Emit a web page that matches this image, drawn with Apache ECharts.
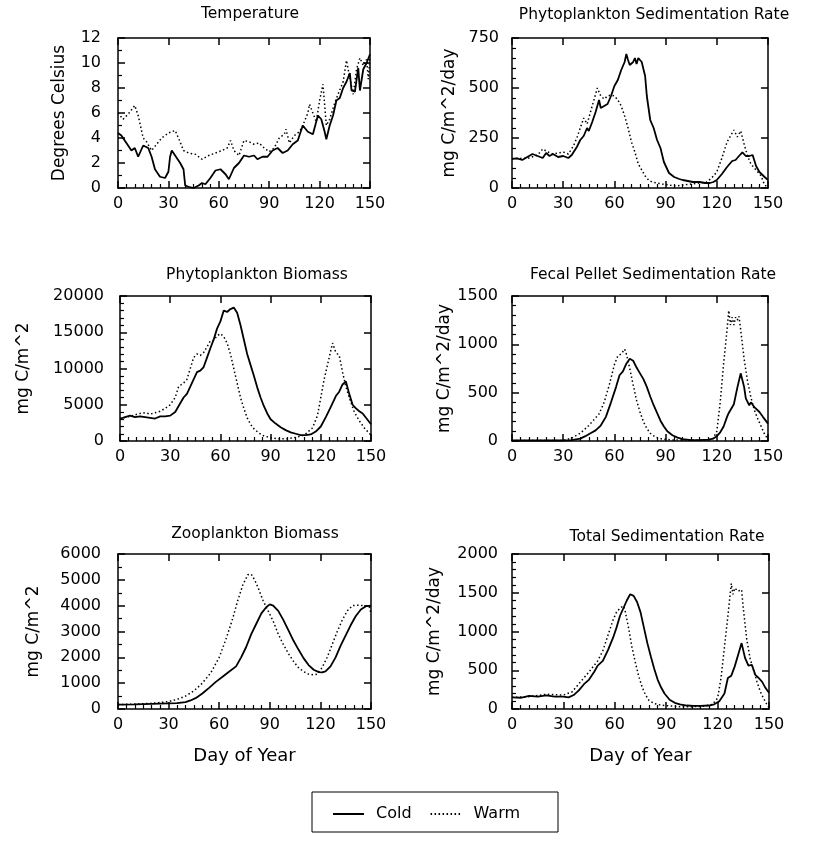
<!DOCTYPE html>
<html>
<head>
<meta charset="utf-8">
<script src="https://cdn.jsdelivr.net/npm/echarts@6/dist/echarts.min.js"></script>
<style>html,body{margin:0;padding:0;background:#fff;}#c{width:819px;height:851px;}</style>
</head>
<body>
<div id="c"></div>
<script>
// ---- data: [day, value] ----
const tempCold = [[0,4.4],[2,4.2],[5,3.6],[8,3.0],[10,3.2],[12,2.5],[15,3.4],[18,3.2],[20,2.5],[22,1.5],[25,0.9],[28,0.8],[30,1.3],[31,2.5],[32,3.0],[34,2.6],[37,2.0],[39,1.5],[40,0.2],[42,0.1],[45,0.0],[48,0.2],[50,0.4],[52,0.3],[55,0.8],[58,1.4],[61,1.5],[64,1.1],[66,0.7],[69,1.6],[72,2.0],[75,2.6],[78,2.5],[81,2.6],[83,2.3],[86,2.5],[89,2.5],[92,3.0],[95,3.2],[98,2.8],[101,3.0],[104,3.5],[107,3.8],[110,5.0],[113,4.5],[116,4.3],[119,5.8],[121,5.5],[123,4.5],[124,3.9],[126,5.0],[128,5.8],[130,7.0],[132,7.2],[134,8.0],[136,8.5],[138,9.2],[139,7.8],[141,7.7],[143,9.6],[144,7.8],[146,9.5],[148,10.0],[150,10.7]];
const tempWarm = [[0,6.0],[3,5.5],[6,5.9],[10,6.6],[12,5.8],[15,4.0],[17,3.7],[20,3.0],[23,3.5],[26,4.0],[30,4.4],[34,4.6],[36,4.0],[39,3.0],[42,2.8],[46,2.7],[50,2.3],[54,2.6],[58,2.8],[62,3.0],[65,3.2],[67,3.8],[69,3.0],[72,2.6],[75,3.8],[78,3.7],[81,3.5],[84,3.6],[87,3.2],[90,2.9],[93,3.2],[96,4.0],[99,4.3],[100,4.7],[102,3.6],[105,4.2],[108,4.5],[110,5.0],[113,6.0],[114,6.7],[116,6.0],[118,5.3],[120,7.0],[122,8.3],[124,5.0],[126,5.5],[129,6.8],[131,7.5],[134,8.5],[136,10.2],[138,8.8],[140,7.5],[142,9.5],[144,10.4],[146,9.8],[148,10.3],[149,8.7],[150,10.4]];

const phySedCold = [[0,146],[3,148],[6,140],[9,155],[12,170],[15,160],[18,150],[20,175],[22,160],[24,170],[27,155],[30,160],[33,150],[35,165],[38,205],[40,240],[42,260],[44,300],[45,285],[47,330],[49,380],[51,440],[52,400],[54,410],[56,420],[58,460],[60,510],[62,540],[64,590],[66,630],[67,670],[68,640],[69,615],[71,630],[72,650],[73,620],[74,650],[76,630],[78,560],[79,460],[81,340],[83,300],[85,240],[87,200],[89,130],[90,125],[92,75],[95,55],[98,45],[100,40],[103,35],[106,30],[110,30],[113,25],[116,25],[118,30],[120,40],[123,70],[126,105],[129,135],[131,140],[133,160],[135,178],[137,160],[139,160],[141,165],[143,110],[145,80],[148,55],[150,40]];
const phySedWarm = [[0,146],[5,148],[10,150],[15,165],[18,195],[21,180],[24,170],[27,175],[30,180],[33,170],[36,210],[38,250],[40,300],[42,350],[44,320],[46,380],[48,440],[50,500],[52,460],[54,445],[56,460],[58,465],[60,460],[62,440],[64,410],[66,360],[68,300],[70,230],[72,180],[74,120],[76,90],[78,60],[80,40],[82,30],[85,25],[88,20],[92,15],[96,10],[100,15],[105,20],[110,25],[114,30],[117,50],[120,80],[123,150],[126,230],[128,260],[130,290],[132,255],[134,285],[136,220],[138,160],[140,120],[143,90],[146,60],[148,15],[150,5]];

const phyBioCold = [[0,3070],[3,3300],[6,3500],[9,3300],[12,3400],[15,3300],[18,3200],[21,3100],[24,3400],[27,3400],[30,3500],[33,4000],[36,5200],[38,6000],[40,6500],[42,7500],[44,8500],[46,9500],[48,9700],[50,10200],[52,11500],[54,12800],[56,14000],[58,15500],[60,16500],[62,18000],[64,17800],[66,18200],[68,18400],[70,17700],[72,16000],[74,14000],[76,12000],[78,10500],[80,9000],[82,7400],[84,6000],[86,4800],[88,3800],[90,3000],[93,2400],[96,1900],[99,1500],[102,1200],[105,1000],[108,800],[111,800],[114,900],[117,1300],[120,2000],[123,3300],[126,4700],[129,6200],[131,6800],[133,7800],[135,8200],[137,6500],[139,5000],[141,4500],[143,4100],[145,3800],[147,3200],[150,2300]];
const phyBioWarm = [[0,3100],[6,3400],[12,3800],[15,3900],[18,3700],[21,3900],[24,4100],[27,4500],[30,5000],[33,6000],[35,7500],[38,8000],[40,8500],[42,10000],[44,11500],[46,12000],[48,11800],[50,12200],[52,13000],[54,13800],[56,13900],[58,14500],[60,14800],[62,14400],[64,13500],[66,12000],[68,10000],[70,8000],[72,6000],[74,4500],[76,3200],[78,2300],[80,1700],[83,1100],[86,700],[90,450],[95,300],[100,300],[105,500],[110,800],[115,1800],[118,3500],[120,6000],[122,8500],[124,10500],[126,12500],[127,13500],[129,12200],[131,11800],[133,9500],[135,7500],[137,6000],[140,4000],[143,2800],[146,1800],[150,800]];

const fecalCold = [[0,5],[10,5],[20,5],[30,5],[35,10],[40,25],[43,50],[46,80],[49,110],[52,160],[55,250],[58,400],[61,560],[63,680],[65,720],[67,800],[69,850],[71,830],[73,760],[75,700],[77,640],[79,560],[81,460],[83,370],[85,290],[87,210],[89,150],[91,100],[94,60],[97,35],[100,20],[105,10],[110,10],[115,15],[118,25],[120,50],[122,90],[124,150],[126,250],[127,290],[128,270],[130,380],[132,550],[134,700],[136,560],[137,440],[139,370],[140,400],[142,350],[143,370],[145,300],[147,250],[150,180]];
const fecalWarm = [[0,5],[10,5],[20,5],[30,5],[35,30],[40,80],[45,160],[48,220],[51,280],[54,400],[57,580],[60,790],[62,880],[64,900],[66,950],[67,900],[69,750],[71,580],[73,420],[75,300],[77,200],[79,130],[81,80],[84,40],[88,20],[95,10],[105,8],[115,10],[118,30],[120,100],[122,400],[124,800],[126,1150],[127,1350],[128,1200],[129,1280],[130,1200],[131,1280],[132,1250],[133,1290],[134,1150],[136,850],[138,620],[140,450],[142,320],[144,230],[146,150],[148,70],[150,20]];

const zooCold = [[0,170],[10,180],[20,200],[30,220],[35,230],[40,270],[43,330],[46,420],[50,600],[54,820],[58,1050],[62,1250],[66,1450],[70,1650],[73,2000],[76,2400],[79,2900],[82,3300],[85,3700],[88,3950],[90,4050],[92,4000],[95,3800],[98,3450],[101,3050],[104,2650],[107,2300],[110,1970],[113,1700],[116,1520],[119,1430],[121,1420],[123,1460],[126,1650],[129,2000],[132,2450],[135,2850],[138,3250],[141,3600],[144,3850],[147,3980],[150,4000]];
const zooWarm = [[0,170],[10,190],[20,220],[25,250],[30,290],[35,370],[40,500],[45,700],[50,1000],[55,1400],[60,2000],[64,2700],[68,3500],[71,4200],[74,4800],[77,5200],[79,5220],[81,5000],[83,4700],[86,4200],[89,3800],[92,3400],[95,2900],[98,2500],[101,2150],[104,1850],[107,1600],[110,1450],[113,1350],[116,1320],[118,1350],[121,1600],[124,2000],[127,2500],[130,3000],[133,3450],[136,3800],[139,4000],[142,4020],[146,4000],[149,3950],[150,3700]];

const totCold = [[0,150],[5,145],[10,170],[15,160],[20,175],[25,160],[30,160],[33,150],[36,180],[39,240],[42,320],[45,380],[48,480],[50,560],[53,620],[56,760],[59,920],[61,1050],[63,1200],[65,1300],[67,1400],[69,1480],[71,1460],[73,1380],[75,1250],[77,1050],[79,850],[81,680],[83,520],[85,380],[87,280],[89,200],[92,120],[95,80],[98,60],[102,45],[106,40],[110,40],[115,45],[118,60],[121,100],[124,200],[126,400],[128,430],[130,550],[132,700],[134,850],[136,660],[138,560],[140,570],[142,440],[144,400],[146,350],[148,270],[150,210]];
const totWarm = [[0,150],[10,160],[20,190],[30,180],[35,220],[40,350],[45,480],[50,620],[53,750],[56,950],[59,1150],[61,1250],[63,1300],[65,1330],[66,1270],[68,1050],[70,800],[72,600],[74,420],[76,280],[78,180],[80,110],[83,70],[87,50],[92,40],[98,30],[105,30],[112,35],[117,60],[120,140],[122,400],[124,800],[126,1200],[128,1620],[129,1480],[130,1560],[132,1520],[134,1540],[135,1300],[137,900],[139,650],[141,500],[143,350],[145,220],[147,130],[149,50],[150,20]];

const xTicks = {min: 0, max: 150, interval: 30};
const panelTitles = ['Temperature','Phytoplankton Sedimentation Rate','Phytoplankton Biomass','Fecal Pellet Sedimentation Rate','Zooplankton Biomass','Total Sedimentation Rate'];
const yNames = ['Degrees Celsius','mg C/m^2/day','mg C/m^2','mg C/m^2/day','mg C/m^2','mg C/m^2/day'];
const yMax = [12, 750, 20000, 1500, 6000, 2000];
const yInterval = [2, 250, 5000, 500, 1000, 500];
const yMinorSplit = [2, 5, 5, 5, 2, 5];
const seriesCold = [tempCold, phySedCold, phyBioCold, fecalCold, zooCold, totCold];
const seriesWarm = [tempWarm, phySedWarm, phyBioWarm, fecalWarm, zooWarm, totWarm];

// ---- layout ----
const FONT = 'DejaVu Sans';
const grids = [
  {left:118, top:38, width:252, height:150},
  {left:512, top:38, width:256, height:150},
  {left:120, top:296, width:251, height:145},
  {left:512, top:296, width:256, height:145},
  {left:118, top:554, width:253, height:155},
  {left:512, top:554, width:257, height:155}
];
const nameGaps = [50, 54, 88, 55, 76, 69];
const labelMargins = [17, 13, 16, 14, 17, 14];
const titlePos = [[250,14],[654,15],[257,275],[653,275],[255,534],[667,537]];
const plain = v => String(v);

const xAxes = [], yAxes = [], series = [], graphics = [];
grids.forEach((g, i) => {
  const bottom = i >= 4;
  xAxes.push({
    type:'value', gridIndex:i, position:'bottom', min:xTicks.min, max:xTicks.max, interval:xTicks.interval,
    axisLine:{show:true, onZero:false, lineStyle:{color:'#000', width:1.5}},
    axisTick:{show:true, inside:true, length:7, lineStyle:{color:'#000', width:1.5}},
    minorTick:{show:true, splitNumber:6, length:4, lineStyle:{color:'#000', width:1.2}},
    splitLine:{show:false},
    axisLabel:{color:'#000', fontSize:16, fontFamily:FONT, margin:8, formatter:plain},
    name: bottom ? 'Day of Year' : '', nameLocation:'middle', nameGap:38,
    nameTextStyle:{color:'#000', fontSize:18, fontFamily:FONT}
  });
  xAxes.push({
    type:'value', gridIndex:i, position:'top', min:xTicks.min, max:xTicks.max, interval:xTicks.interval,
    axisLine:{show:true, onZero:false, lineStyle:{color:'#000', width:1.5}},
    axisTick:{show:true, inside:true, length:7, lineStyle:{color:'#000', width:1.5}},
    splitLine:{show:false}, axisLabel:{show:false}
  });
  yAxes.push({
    type:'value', gridIndex:i, position:'left', min:0, max:yMax[i], interval:yInterval[i],
    axisLine:{show:true, onZero:false, lineStyle:{color:'#000', width:1.5}},
    axisTick:{show:true, inside:true, length:7, lineStyle:{color:'#000', width:1.5}},
    minorTick:{show:true, splitNumber:yMinorSplit[i], length:4, lineStyle:{color:'#000', width:1.2}},
    splitLine:{show:false},
    axisLabel:{color:'#000', fontSize:16, fontFamily:FONT, margin:labelMargins[i], formatter:plain},
    name:yNames[i], nameLocation:'middle', nameGap:nameGaps[i],
    nameTextStyle:{color:'#000', fontSize:17, fontFamily:FONT}
  });
  yAxes.push({
    type:'value', gridIndex:i, position:'right', min:0, max:yMax[i], interval:yInterval[i],
    axisLine:{show:true, onZero:false, lineStyle:{color:'#000', width:1.5}},
    axisTick:{show:true, inside:true, length:7, lineStyle:{color:'#000', width:1.5}},
    splitLine:{show:false}, axisLabel:{show:false}
  });
  series.push({
    name:'Cold', type:'line', xAxisIndex:2*i, yAxisIndex:2*i, data:seriesCold[i],
    symbol:'none', showSymbol:false, lineStyle:{color:'#000', width:1.8, type:'solid'}, itemStyle:{color:'#000'}, z:3
  });
  series.push({
    name:'Warm', type:'line', xAxisIndex:2*i, yAxisIndex:2*i, data:seriesWarm[i],
    symbol:'none', showSymbol:false, lineStyle:{color:'#000', width:1.5, type:[1.5,2.5]}, itemStyle:{color:'#000'}, z:2
  });
  graphics.push({
    type:'text', x:titlePos[i][0], y:titlePos[i][1],
    style:{text:panelTitles[i], fill:'#000', font:'15.5px "DejaVu Sans"', textAlign:'center', textVerticalAlign:'middle'}
  });
});
graphics.push({type:'rect', shape:{x:312, y:792, width:246, height:40}, style:{fill:'none', stroke:'#000', lineWidth:1}});

const chart = echarts.init(document.getElementById('c'), null, {renderer:'canvas'});
chart.setOption({
  animation:false,
  backgroundColor:'#fff',
  grid: grids.map(g => Object.assign({containLabel:false}, g)),
  xAxis: xAxes,
  yAxis: yAxes,
  series: series,
  graphic: graphics,
  legend: {
    data:['Cold','Warm'], left:327, top:801, itemWidth:31, itemHeight:14, itemGap:18,
    itemStyle:{color:'rgba(0,0,0,0)', borderWidth:0, opacity:0},
    textStyle:{color:'#000', fontSize:16, fontFamily:FONT, padding:[0,0,0,7]},
    selectedMode:false
  }
});
</script>
</body>
</html>
